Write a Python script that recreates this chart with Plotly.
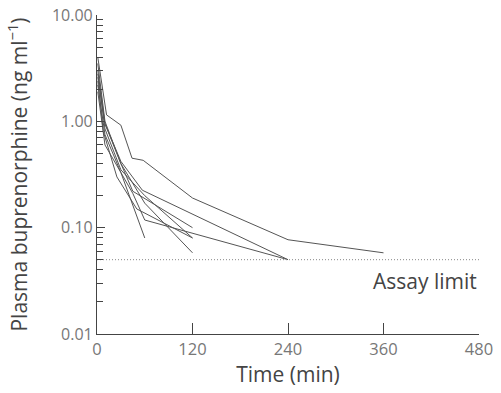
import plotly.graph_objects as go

# Time points (min) and plasma buprenorphine concentrations (ng/ml) per subject
subj_times = [
    [1, 12, 30, 44, 58, 120, 240, 360],
    [1, 10, 30, 57, 240],
    [1, 10, 30, 45, 60, 240],
    [1, 10, 30, 60],
    [1, 10, 30, 45, 120],
    [1, 10, 30, 60, 120],
    [1, 10, 30, 60, 120],
    [1, 8, 25, 50, 120],
]
subj_conc = [
    [4.0, 1.15, 0.92, 0.45, 0.43, 0.19, 0.077, 0.058],
    [2.6, 0.95, 0.42, 0.225, 0.05],
    [2.2, 0.75, 0.33, 0.21, 0.118, 0.05],
    [1.9, 0.6, 0.33, 0.08],
    [3.0, 0.95, 0.4, 0.22, 0.10],
    [2.8, 0.85, 0.35, 0.2, 0.08],
    [3.5, 1.0, 0.4, 0.17, 0.058],
    [2.4, 0.8, 0.3, 0.15, 0.08],
]
assay_limit = 0.05
x_ticks = [0, 120, 240, 360, 480]
y_ticks = [0.01, 0.1, 1, 10]
y_ticktext = ["0.01", "0.10", "1.00", "10.00"]
y_minor = [m * 10 ** e for e in (-2, -1, 0) for m in range(2, 10)]

fig = go.Figure()
for t, c in zip(subj_times, subj_conc):
    fig.add_trace(go.Scatter(x=t, y=c, mode="lines",
                             line=dict(color="#555555", width=1),
                             showlegend=False, hoverinfo="skip"))

fig.add_trace(go.Scatter(x=[0, 480], y=[assay_limit, assay_limit], mode="lines",
                         line=dict(color="#888888", width=1, dash="1px,2px"),
                         showlegend=False, hoverinfo="skip"))

fig.add_annotation(x=480, y=-1.5, xref="x", yref="y", text="Assay limit",
                   showarrow=False, xanchor="right", yanchor="middle",
                   font=dict(size=21, color="#444444"))

fig.update_layout(
    width=501, height=393,
    margin=dict(l=97, r=22, t=15, b=59),
    paper_bgcolor="white", plot_bgcolor="white",
    font=dict(family="Open Sans, Lato, sans-serif", color="#555555", size=17),
)
fig.update_xaxes(
    range=[0, 480], tickvals=x_ticks, ticks="inside", ticklen=11,
    tickcolor="#444444", showline=True, linecolor="#444444", linewidth=1.2,
    showgrid=False, zeroline=False, automargin=False,
    title=dict(text="Time (min)", font=dict(size=21, color="#444444"), standoff=0),
    tickfont=dict(size=16.5, color="#777777"),
)
fig.update_yaxes(
    type="log", range=[-2, 1], tickvals=y_ticks, ticktext=y_ticktext,
    ticks="inside", ticklen=8, tickcolor="#444444",
    minor=dict(tickvals=y_minor, ticks="inside", ticklen=6, tickcolor="#444444", showgrid=False),
    showline=True, linecolor="#444444", linewidth=1.2,
    showgrid=False, zeroline=False, automargin=False, ticklabeloverflow="allow",
    title=dict(text="Plasma buprenorphine (ng ml<sup>−1</sup>)", font=dict(size=21, color="#444444"), standoff=18),
    tickfont=dict(size=16, color="#777777"),
)

fig.write_html("out.html", post_script="document.body.style.margin='0';",
               config={"displayModeBar": False})
